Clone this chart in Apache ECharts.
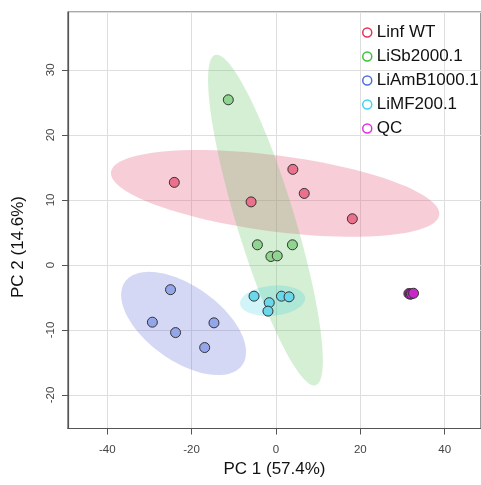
<!DOCTYPE html>
<html>
<head>
<meta charset="utf-8">
<script src="https://cdn.jsdelivr.net/npm/echarts@6/dist/echarts.min.js"></script>
<style>
html,body{margin:0;padding:0;background:#fff;}
#chart{width:481px;height:485px;}
</style>
</head>
<body>
<div id="chart"></div>
<script>
// ---- data ----
const groups = ['Linf WT', 'LiSb2000.1', 'LiAmB1000.1', 'LiMF200.1', 'QC'];

const linfWT_x = [-24.1, -5.9, 4.0, 6.7, 18.1];
const linfWT_y = [12.7, 9.7, 14.7, 11.0, 7.1];

const liSb_x = [-11.3, -4.4, 3.9, -1.2, 0.3];
const liSb_y = [25.4, 3.1, 3.1, 1.3, 1.4];

const liAmB_x = [-25.0, -29.3, -23.8, -14.7, -16.9];
const liAmB_y = [-3.8, -8.8, -10.4, -8.9, -12.7];

const liMF_x = [-5.2, -1.6, -1.9, 1.3, 3.1];
const liMF_y = [-4.8, -5.8, -7.1, -4.8, -4.9];

const qc_x = [31.5, 31.8, 32.1, 32.6];
const qc_y = [-4.4, -4.5, -4.45, -4.35];

// ellipse: centre and two conjugate semi-diameters (data units)
const ellCx = [-0.2, -2.5, -21.9, -0.8];
const ellCy = [11.0, 6.9, -9.0, -5.5];
const ellUx = [38.9, 11.9, 13.9, 7.7];
const ellUy = [-3.3, -25.4, -6.4, 0.45];
const ellVx = [-1.16, -6.6, -5.1, 0.3];
const ellVy = [-5.8, -1.3, -4.7, -2.3];

const xTickStep = 20;
const yTickStep = 10;

const ringColors = ['#e8305a', '#3fbf3f', '#4f6fe0', '#3fd6ef', '#e030e0'];
const pointColors = ['#ea708c', '#8fd48f', '#94a6ea', '#6ad8ea', '#c828c8'];
const ellipseColors = ['rgba(230,90,125,0.30)', 'rgba(100,195,100,0.27)', 'rgba(100,115,215,0.28)', 'rgba(40,205,225,0.22)'];

// ---- chart ----
const xs = [linfWT_x, liSb_x, liAmB_x, liMF_x, qc_x];
const ys = [linfWT_y, liSb_y, liAmB_y, liMF_y, qc_y];

const chart = echarts.init(document.getElementById('chart'), null, {renderer: 'canvas'});
const font = 'Liberation Sans, Arial, Helvetica, sans-serif';

const series = [];
ellCx.forEach((cx, i) => {
  series.push({
    type: 'custom',
    name: 'ell' + i,
    coordinateSystem: 'cartesian2d',
    silent: true,
    z: 1,
    data: [[cx, ellCy[i], ellUx[i], ellUy[i], ellVx[i], ellVy[i]]],
    encode: {x: 0, y: 1},
    renderItem: function (params, api) {
      const c0 = api.value(0), c1 = api.value(1);
      const ux = api.value(2), uy = api.value(3), vx = api.value(4), vy = api.value(5);
      const pts = [];
      for (let k = 0; k < 120; k++) {
        const t = k / 120 * Math.PI * 2;
        pts.push(api.coord([c0 + ux * Math.cos(t) + vx * Math.sin(t), c1 + uy * Math.cos(t) + vy * Math.sin(t)]));
      }
      return {type: 'polygon', shape: {points: pts}, style: {fill: ellipseColors[i], stroke: null}};
    }
  });
});
groups.forEach((g, i) => {
  series.push({
    type: 'scatter',
    name: g,
    z: 5,
    symbol: 'circle',
    symbolSize: 10,
    itemStyle: {color: pointColors[i], borderColor: '#333', borderWidth: 1, opacity: 1},
    data: xs[i].map((x, k) => [x, ys[i][k]])
  });
});

chart.setOption({
  animation: false,
  backgroundColor: '#fff',
  textStyle: {fontFamily: font},
  grid: {left: 68, right: -4, top: 12, bottom: 56.5, show: true, borderColor: '#555', borderWidth: 1.2, backgroundColor: 'transparent'},
  legend: {
    orient: 'vertical',
    left: 357,
    top: 19,
    itemWidth: 9,
    itemHeight: 9,
    itemGap: 7,
    textStyle: {fontSize: 17, color: '#111', fontFamily: font},
    data: groups.map((g, i) => ({name: g, icon: 'circle', itemStyle: {color: 'rgba(0,0,0,0)', borderColor: ringColors[i], borderWidth: 1.5}}))
  },
  graphic: [{
    type: 'text',
    x: 18,
    y: 247,
    rotation: Math.PI / 2,
    style: {text: 'PC 2 (14.6%)', fontSize: 17, fill: '#111', fontFamily: font, align: 'center', verticalAlign: 'middle'}
  }],
  xAxis: {
    type: 'value',
    min: -49.3,
    max: 48.6,
    splitNumber: 5,
    name: 'PC 1 (57.4%)',
    nameLocation: 'middle',
    nameGap: 31,
    nameTextStyle: {fontSize: 17, color: '#111', fontFamily: font},
    axisLine: {show: true, onZero: false, lineStyle: {color: '#555', width: 1.2}},
    axisTick: {show: true, inside: false, length: 6, lineStyle: {color: '#555', width: 1}},
    axisLabel: {fontSize: 11.5, color: '#444', margin: 15, showMinLabel: false, showMaxLabel: false,
      formatter: v => (Math.abs(v % xTickStep) < 1e-6 ? String(v) : '')},
    splitLine: {show: true, lineStyle: {color: '#dedede', width: 1}}
  },
  yAxis: {
    type: 'value',
    min: -25.15,
    max: 38.9,
    splitNumber: 6,
    axisLine: {show: true, onZero: false, lineStyle: {color: '#555', width: 1.2}},
    axisTick: {show: true, inside: false, length: 6, lineStyle: {color: '#555', width: 1}},
    axisLabel: {fontSize: 11.5, color: '#444', margin: 11, rotate: 90, showMinLabel: false, showMaxLabel: false,
      formatter: v => (Math.abs(v % yTickStep) < 1e-6 ? String(v) : '')},
    splitLine: {show: true, lineStyle: {color: '#dedede', width: 1}}
  },
  series: series
});
</script>
</body>
</html>
